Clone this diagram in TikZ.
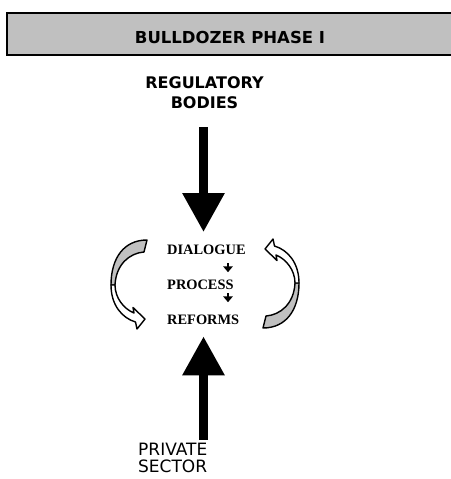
\documentclass[tikz,border=0pt]{standalone}
\usepackage{fontspec}
\setmainfont{Liberation Serif}
\newfontfamily\hdfont{DejaVu Sans}
\usepackage[HTML]{xcolor}
\usepackage{tikz}
\usetikzlibrary{positioning, arrows.meta}
\definecolor{boxgray}{HTML}{C0C0C0}

\begin{document}
\begin{tikzpicture}[x=1pt, y=-1pt,
  headbox/.style={draw, line width=2.2pt, fill=boxgray, inner sep=0pt, minimum width=446pt,
    text height=30pt, text depth=12pt, font=\hdfont\bfseries\fontsize{16.5}{20}\selectfont},
  toplabel/.style={inner sep=0pt, align=center, font=\hdfont\bfseries\fontsize{16}{20}\selectfont},
  botlabel/.style={inner sep=0pt, align=left, font=\hdfont\fontsize{17}{17}\selectfont},
  steplabel/.style={inner sep=0pt, font=\bfseries\fontsize{14.4}{17}\selectfont},
  bigarrow/.style={line width=9pt, -{Triangle[width=40pt, length=39pt]}},
  smallarrow/.style={line width=2.8pt, -{Triangle[width=9.5pt, length=6pt]}},
  curveback/.style={fill=boxgray, draw, line width=1.4pt, line join=round},
  curvefront/.style={fill=white, draw, line width=1.4pt, line join=round}]
\useasboundingbox (0,0) rectangle (450,479);

\node[headbox, anchor=base] (head) at (230,43) {BULLDOZER PHASE I};
\node[toplabel] (reg) at (204.5,93) {REGULATORY\\BODIES};
\node[steplabel, anchor=base west] (dia) at (167,254) {DIALOGUE};
\node[steplabel, anchor=base west] (proc) at (167,289) {PROCESS};
\node[steplabel, anchor=base west] (ref) at (167,324) {REFORMS};
\node[botlabel, anchor=north west] (priv) at (138,443) {PRIVATE\\SECTOR};

\coordinate (mid) at (203.5,0);
\coordinate (col) at (228,0);

\draw[bigarrow, shorten <=18pt, shorten >=12.2pt] (reg.south -| mid) -- (dia.north -| mid);
\draw[bigarrow, shorten <=3pt, shorten >=12pt] (priv.north -| mid) -- (ref.south -| mid);
\draw[smallarrow, shorten <=9pt, shorten >=7pt] (dia.south -| col) -- (proc.north -| col);
\draw[smallarrow, shorten <=4pt, shorten >=12pt] (proc.south -| col) -- (ref.north -| col);

% curved arrows, the right one is the left one turned round
\foreach \r in {0,180}{
  \begin{scope}[rotate around={\r:(205,284)}]
    \filldraw[curveback] (147,240) -- (144,252) .. controls (130,253) and (116,264) .. (115,285)
      -- (111,285) .. controls (111,258) and (124,240) .. (147,240) -- cycle;
    \filldraw[curvefront] (111,285) .. controls (111,305) and (122,318) .. (135.5,322)
      -- (137,329) -- (145,319) -- (133,307.5) -- (134,313)
      .. controls (124,309) and (115,298) .. (115,285) -- cycle;
  \end{scope}
}
\end{tikzpicture}
\end{document}
